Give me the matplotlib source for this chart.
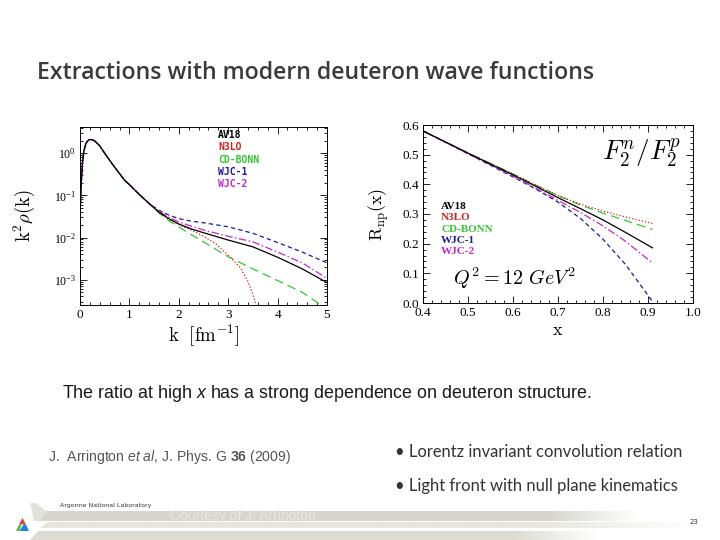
import numpy as np
import matplotlib
matplotlib.use("Agg")
import matplotlib.pyplot as plt
from matplotlib.ticker import MultipleLocator, LogLocator, NullFormatter
from matplotlib.patches import Polygon

plt.rcParams['mathtext.fontset'] = 'cm'
# the 'custom' math set is only used for the slide text (italic x, et al, bold 36)
plt.rcParams['mathtext.rm'] = 'Liberation Sans'
plt.rcParams['mathtext.it'] = 'Liberation Sans:italic'
plt.rcParams['mathtext.bf'] = 'Liberation Sans:bold'

# ---- left panel: momentum distributions k^2 rho(k) ----
k_common = [0.0, 0.02, 0.05, 0.08, 0.12, 0.16, 0.2, 0.25, 0.3, 0.4, 0.5,
            0.6, 0.7, 0.8, 0.9, 1.0, 1.2, 1.4]
rho_common = [0.03, 0.15, 0.6, 1.15, 1.7, 2.0, 2.12, 2.1, 1.95, 1.5, 1.0,
              0.68, 0.47, 0.33, 0.23, 0.18, 0.105, 0.064]

k_av18 = [1.6, 1.8, 2.0, 2.25, 2.5, 3.0, 3.5, 4.0, 4.5, 5.0]
rho_av18 = [0.040, 0.028, 0.021, 0.016, 0.013, 0.0087, 0.006, 0.0034, 0.0018, 0.00085]
k_n3lo = [1.6, 1.8, 2.0, 2.25, 2.5, 2.75, 3.0, 3.25, 3.4, 3.5, 3.6]
rho_n3lo = [0.039, 0.027, 0.020, 0.015, 0.0107, 0.0071, 0.0038, 0.0019, 0.0009, 0.00045, 0.00018]
k_cdbonn = [1.6, 1.8, 2.0, 2.25, 2.5, 3.0, 3.5, 4.0, 4.5, 5.0]
rho_cdbonn = [0.038, 0.025, 0.0178, 0.0117, 0.0079, 0.0035, 0.0018, 0.00095, 0.0005, 0.0002]
k_wjc1 = [1.6, 1.8, 2.0, 2.25, 2.5, 3.0, 3.5, 4.0, 4.5, 5.0]
rho_wjc1 = [0.044, 0.034, 0.028, 0.0245, 0.0224, 0.018, 0.0126, 0.0076, 0.0045, 0.0025]
k_wjc2 = [1.6, 1.8, 2.0, 2.25, 2.5, 3.0, 3.5, 4.0, 4.5, 5.0]
rho_wjc2 = [0.042, 0.030, 0.0235, 0.0186, 0.0151, 0.0107, 0.0079, 0.0045, 0.0025, 0.00107]

# ---- right panel: F2n/F2p ratio ----
x_ratio = [0.4, 0.5, 0.6, 0.65, 0.7, 0.75, 0.8, 0.85, 0.91]
r_av18 = [0.58, 0.505, 0.432, 0.394, 0.355, 0.318, 0.280, 0.238, 0.186]
r_n3lo = [0.58, 0.506, 0.435, 0.398, 0.362, 0.333, 0.310, 0.290, 0.268]
r_cdbonn = [0.58, 0.506, 0.435, 0.398, 0.362, 0.330, 0.303, 0.278, 0.248]
r_wjc1 = [0.58, 0.503, 0.425, 0.385, 0.340, 0.285, 0.215, 0.130, 0.005]
r_wjc2 = [0.58, 0.504, 0.428, 0.388, 0.346, 0.305, 0.260, 0.208, 0.135]

models = ['AV18', 'N3LO', 'CD-BONN', 'WJC-1', 'WJC-2']
colors = {'AV18': 'black', 'N3LO': '#d42020', 'CD-BONN': '#33c733',
          'WJC-1': '#1a1a9c', 'WJC-2': '#c526c5'}
styles = {'AV18': '-', 'N3LO': (0, (1, 1.6)), 'CD-BONN': (0, (7, 4)),
          'WJC-1': (0, (3.5, 2.5)), 'WJC-2': (0, (6, 2, 1.2, 2))}

W, H = 720, 540
fig = plt.figure(figsize=(7.2, 5.4), dpi=100)


def box(x0, y0, x1, y1):
    return [x0 / W, 1 - y1 / H, (x1 - x0) / W, (y1 - y0) / H]


def ftext(x, y, s, **kw):
    return fig.text(x / W, 1 - y / H, s, **kw)


# footer decoration
bg = fig.add_axes([0, 0, 1, 1], zorder=0)
bg.axis('off')


def band(y0, y1, x0, x1, rgb, fade_start):
    grad = np.ones((1, 300, 4))
    grad[..., :3] = matplotlib.colors.to_rgb(rgb)
    t = np.linspace(0, 1, 300)
    grad[0, :, 3] = np.clip((1 - t) / (1 - fade_start), 0, 1)
    im = bg.imshow(grad, extent=(x0, x1, y1, y0), aspect='auto', interpolation='bilinear')
    clip = Polygon([(x0 + 8, y0), (x1, y0), (x1, y1), (x0, y1)], closed=True,
                   transform=bg.transData, facecolor='none', edgecolor='none')
    bg.add_patch(clip)
    im.set_clip_path(clip)


band(511, 521, 34, 640, '#d6d6ce', 0.85)
band(522, 528, 40, 700, '#e6e6de', 0.75)
band(531, 540, 30, 600, '#dcdcd4', 0.85)
bg.add_patch(Polygon([(30, 503), (36, 503), (46, 511), (40, 521), (34, 521)],
                     closed=True, facecolor='#e2e2da', edgecolor='none'))
# logo
bg.add_patch(Polygon([(22.5, 518), (26, 524.5), (19, 524.5)], facecolor='#e2452f', edgecolor='none'))
bg.add_patch(Polygon([(19, 524.5), (21.5, 524.5), (19.5, 531), (16, 531)], facecolor='#5cb847', edgecolor='none'))
bg.add_patch(Polygon([(23.5, 524.5), (26, 524.5), (29, 531), (19.5, 531)], facecolor='#1e88d0', edgecolor='none'))
bg.set_xlim(0, W)
bg.set_ylim(H, 0)

# ---- left axes ----
ax1 = fig.add_axes(box(80, 127, 327, 305))
tails = {'AV18': (k_av18, rho_av18), 'N3LO': (k_n3lo, rho_n3lo),
         'CD-BONN': (k_cdbonn, rho_cdbonn), 'WJC-1': (k_wjc1, rho_wjc1),
         'WJC-2': (k_wjc2, rho_wjc2)}
for m in ['CD-BONN', 'N3LO', 'WJC-1', 'WJC-2', 'AV18']:
    kk, rr = tails[m]
    ax1.plot(k_common + kk, rho_common + rr, color=colors[m], ls=styles[m], lw=0.9)
ax1.set_yscale('log')
ax1.set_xlim(0, 5)
ax1.set_ylim(2.5e-4, 4.2)
ax1.yaxis.set_major_locator(LogLocator(base=10, numticks=10))
ax1.yaxis.set_minor_locator(LogLocator(base=10, subs=np.arange(2, 10), numticks=20))
ax1.yaxis.set_minor_formatter(NullFormatter())
ax1.xaxis.set_major_locator(MultipleLocator(1))
ax1.xaxis.set_minor_locator(MultipleLocator(0.2))
ax1.set_xlabel(r'$\mathrm{k\ \ [fm^{-1}]}$', fontsize=13.5, labelpad=1)
ax1.set_ylabel(r'$\mathrm{k^2}\rho\mathrm{(k)}$', fontsize=13.5, labelpad=12)

# ---- right axes ----
ax2 = fig.add_axes(box(423, 125, 693, 303))
ratios = {'AV18': r_av18, 'N3LO': r_n3lo, 'CD-BONN': r_cdbonn, 'WJC-1': r_wjc1, 'WJC-2': r_wjc2}
for m in ['CD-BONN', 'N3LO', 'WJC-1', 'WJC-2', 'AV18']:
    ax2.plot(x_ratio, ratios[m], color=colors[m], ls=styles[m], lw=0.9)
ax2.set_xlim(0.4, 1.0)
ax2.set_ylim(0.0, 0.6)
ax2.xaxis.set_major_locator(MultipleLocator(0.1))
ax2.xaxis.set_minor_locator(MultipleLocator(0.02))
ax2.yaxis.set_major_locator(MultipleLocator(0.1))
ax2.yaxis.set_minor_locator(MultipleLocator(0.02))
ax2.set_xlabel(r'$\mathrm{x}$', fontsize=13, labelpad=1)
ax2.set_ylabel(r'$\mathrm{R_{np}(x)}$', fontsize=13, labelpad=7)
ax2.text(0.955, 0.84, r'$F_2^n/F_2^p$', transform=ax2.transAxes, fontsize=19.5, ha='right', va='center')
ax2.text(0.11, 0.14, r'$Q^2 = 12\ GeV^2$', transform=ax2.transAxes, fontsize=14.5, ha='left', va='center')

for ax in (ax1, ax2):
    ax.tick_params(which='both', direction='in', top=True, right=True, width=0.6)
    ax.tick_params(which='major', length=5, labelsize=9.5, pad=3)
    ax.tick_params(which='minor', length=2.5)
    for lab in ax.get_xticklabels() + ax.get_yticklabels():
        lab.set_family('Liberation Serif')
    for s in ax.spines.values():
        s.set_linewidth(0.7)
ax1.tick_params(axis='y', labelsize=8.5)

# model labels inside the panels
for i, m in enumerate(models):
    ftext(218, 135 + i * 12.3, m, color=colors[m], fontsize=7, family='DejaVu Sans Mono',
          weight='bold', va='center')
    ftext(441, 206.5 + i * 11.3, m, color=colors[m], fontsize=8, family='Liberation Serif',
          weight='bold', va='center')

# slide text
ftext(37, 73, 'Extractions with modern deuteron wave functions', fontsize=16.7,
      color='#3a3a3a', va='center', family='Open Sans', weight='semibold')
ftext(62, 393, r'The ratio at high $x$ has a strong dependence on deuteron structure.',
      fontsize=12.9, color='#1a1a1a', va='center', family='Liberation Sans', math_fontfamily='custom')
ftext(48, 457, r'J.  Arrington $et\ al$, J. Phys. G $\mathbf{36}$ (2009)',
      fontsize=10.1, color='#555555', va='center', family='Liberation Sans', math_fontfamily='custom')
ftext(395, 452, '\u2022 Lorentz invariant convolution relation', fontsize=11.9,
      color='#333333', va='center', family='Lato')
ftext(395, 486, '\u2022 Light front with null plane kinematics', fontsize=11.9,
      color='#333333', va='center', family='Lato')
ftext(60, 506, 'Argonne National Laboratory', fontsize=4.5, color='#333333', va='center',
      family='DejaVu Sans')
ftext(170, 516, 'Courtesy of J. Arrington', fontsize=10, color='#e8e8e4', va='center',
      family='Liberation Sans')
ftext(690, 522, '23', fontsize=5, color='#333333', va='center', family='DejaVu Sans')

fig.savefig('out.png', dpi=100)
